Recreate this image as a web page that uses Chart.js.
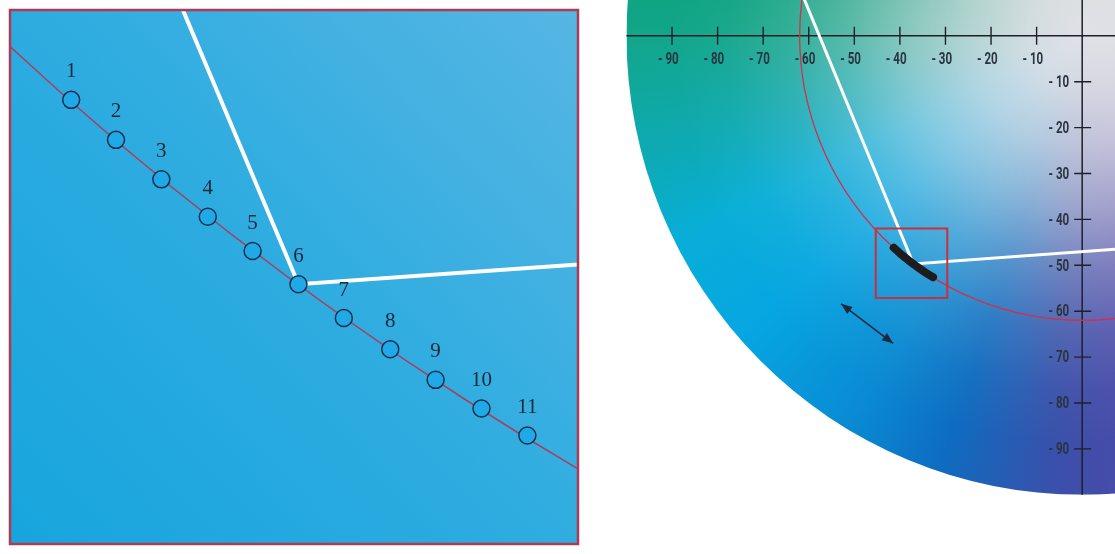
<!DOCTYPE html>
<html>
<head>
<meta charset="utf-8">
<script src="https://cdn.jsdelivr.net/npm/chart.js@4.4.1/dist/chart.umd.min.js"></script>
<style>
  html, body { margin: 0; padding: 0; background: #ffffff; }
  body { width: 1115px; height: 554px; position: relative; overflow: hidden; }
  #inset { position: absolute; left: 0; top: 0; }
  #plane { position: absolute; left: 590px; top: 0; }
</style>
</head>
<body>
<canvas id="inset" width="590" height="554"></canvas>
<canvas id="plane" width="525" height="554"></canvas>
<script>
// Eleven samples placed along the C* = 62 ring (a*, b* coordinates)
const sampleIds = ['1', '2', '3', '4', '5', '6', '7', '8', '9', '10', '11'];
const sampleA = [-41.36, -40.51, -39.65, -38.77, -37.92, -37.05, -36.19, -35.31, -34.45, -33.58, -32.71];
const sampleB = [-46.15, -46.92, -47.68, -48.40, -49.06, -49.70, -50.35, -50.95, -51.54, -52.09, -52.61];

// Reference ring and the outer edge of the colour disc (chroma)
const chromaRing = 62;
const gamutRadius = 100;

// White guide polyline (a*, b*)
const guideA = [-61.0, -37.05, 7.5];
const guideB = [8.0, -49.7, -46.5];

// Enlarged window marked on the plane (a* range, b* range)
const zoomA = [-45.3, -29.6];
const zoomB = [-42.0, -57.1];

// Double arrow (a*, b*)
const arrowA = [-52.9, -41.5];
const arrowB = [-58.4, -67.0];

// Axis ticks
const aTicks = [-90, -80, -70, -60, -50, -40, -30, -20, -10];
const aTickLabels = ['90', '80', '70', '60', '50', '40', '30', '20', '10'];
const bTicks = [-10, -20, -30, -40, -50, -60, -70, -80, -90];
const bTickLabels = ['10', '20', '30', '40', '50', '60', '70', '80', '90'];
const axisEnd = -100;

const pts = (xs, ys) => xs.map((v, i) => ({ x: v, y: ys[i] }));
const samplePts = pts(sampleA, sampleB);
const guidePts = pts(guideA, guideB);
const arrowPts = pts(arrowA, arrowB);
const boxPts = [
  { x: zoomA[0], y: zoomB[0] }, { x: zoomA[1], y: zoomB[0] },
  { x: zoomA[1], y: zoomB[1] }, { x: zoomA[0], y: zoomB[1] },
  { x: zoomA[0], y: zoomB[0] }
];

// Hue wheel colours around the origin (canvas angle, clockwise from +a*)
const hueStops = [
  [0.00, '#d6c8da'], [0.12, '#8a74bc'], [0.22, '#5048a8'], [0.26, '#3a50aa'],
  [0.30, '#0e6cc0'], [0.335, '#0a8ad2'], [0.385, '#06a6e2'], [0.425, '#08aed8'],
  [0.45, '#0cabbc'], [0.48, '#10a89e'], [0.50, '#12a68a'], [0.54, '#0aa078'],
  [0.75, '#9cc870'], [1.00, '#d6c8da']
];
const whiteStops = [
  [0.00, 1.0], [0.12, 0.93], [0.25, 0.78], [0.38, 0.58], [0.52, 0.33],
  [0.65, 0.15], [0.78, 0.04], [0.9, 0.0], [1.0, 0.0]
];

const labelFont = 'bold 17px Roboto, "DejaVu Sans", sans-serif';
const labelColor = '#2a3440';
const axisColor = '#1f1f2b';

function drawTickText(ctx, digits, x, y, mode) {
  // condensed axis lettering: "- 90"
  const sx = 0.68;
  ctx.save();
  ctx.font = labelFont;
  ctx.fillStyle = labelColor;
  ctx.textBaseline = 'middle';
  const dW = ctx.measureText(digits).width * sx;
  const mW = ctx.measureText('- ').width * sx;
  let left;
  if (mode === 'center') left = x - dW / 2 - mW;
  else left = x - dW - mW;
  ctx.translate(left, y);
  ctx.scale(sx, 1);
  ctx.textAlign = 'left';
  ctx.fillText('- ' + digits, 0, 0);
  ctx.restore();
}

const planePlugin = {
  id: 'labPlane',
  beforeDatasetsDraw(chart) {
    const { ctx, scales: { x, y } } = chart;
    const cx = x.getPixelForValue(0), cy = y.getPixelForValue(0);
    const rx = x.getPixelForValue(gamutRadius) - cx;
    const ry = cy - y.getPixelForValue(gamutRadius);

    // colour disc
    ctx.save();
    ctx.beginPath();
    ctx.ellipse(cx, cy, rx, ry, 0, 0, Math.PI * 2);
    ctx.clip();
    const conic = ctx.createConicGradient(0, cx, cy);
    hueStops.forEach(([f, c]) => conic.addColorStop(f, c));
    ctx.fillStyle = conic;
    ctx.fillRect(cx - rx, cy - ry, 2 * rx, 2 * ry);
    const rad = ctx.createRadialGradient(cx, cy, 0, cx, cy, rx);
    whiteStops.forEach(([f, a]) => rad.addColorStop(f, 'rgba(224,225,230,' + a + ')'));
    ctx.fillStyle = rad;
    ctx.fillRect(cx - rx, cy - ry, 2 * rx, 2 * ry);
    ctx.restore();

    // axes
    ctx.save();
    ctx.strokeStyle = axisColor;
    ctx.lineWidth = 1.5;
    ctx.beginPath();
    ctx.moveTo(x.getPixelForValue(axisEnd), cy);
    ctx.lineTo(chart.chartArea.right, cy);
    ctx.moveTo(cx, chart.chartArea.top);
    ctx.lineTo(cx, y.getPixelForValue(axisEnd));
    ctx.stroke();
    ctx.lineWidth = 1.4;
    ctx.beginPath();
    aTicks.forEach(v => {
      const px = x.getPixelForValue(v);
      ctx.moveTo(px, cy - 9); ctx.lineTo(px, cy + 9);
    });
    bTicks.forEach(v => {
      const py = y.getPixelForValue(v);
      ctx.moveTo(cx - 8, py); ctx.lineTo(cx + 9, py);
    });
    ctx.stroke();
    ctx.restore();
    aTicks.forEach((v, i) => drawTickText(ctx, aTickLabels[i], x.getPixelForValue(v), cy + 24, 'center'));
    bTicks.forEach((v, i) => drawTickText(ctx, bTickLabels[i], cx - 13, y.getPixelForValue(v) + 1, 'right'));

    // chroma ring
    ctx.save();
    ctx.strokeStyle = '#d2304a';
    ctx.lineWidth = 1.3;
    ctx.beginPath();
    ctx.ellipse(cx, cy, x.getPixelForValue(chromaRing) - cx, cy - y.getPixelForValue(chromaRing), 0, 0, Math.PI * 2);
    ctx.stroke();
    ctx.restore();
  },
  afterDatasetsDraw(chart) {
    const { ctx } = chart;
    const meta = chart.getDatasetMeta(1);
    const p0 = meta.data[0], p1 = meta.data[1];
    const head = (tip, from) => {
      const ang = Math.atan2(tip.y - from.y, tip.x - from.x);
      const L = 11, W = 4.5;
      ctx.beginPath();
      ctx.moveTo(tip.x, tip.y);
      ctx.lineTo(tip.x - L * Math.cos(ang) + W * Math.sin(ang), tip.y - L * Math.sin(ang) - W * Math.cos(ang));
      ctx.lineTo(tip.x - L * Math.cos(ang) - W * Math.sin(ang), tip.y - L * Math.sin(ang) + W * Math.cos(ang));
      ctx.closePath();
      ctx.fill();
    };
    ctx.save();
    ctx.fillStyle = '#1c2a3e';
    head(p0, p1);
    head(p1, p0);
    ctx.restore();
  }
};

new Chart(document.getElementById('plane'), {
  type: 'scatter',
  data: {
    datasets: [
      { data: samplePts, showLine: true, borderColor: '#1d1d1f', borderWidth: 8,
        borderCapStyle: 'round', borderJoinStyle: 'round', pointRadius: 0, tension: 0 },
      { data: arrowPts, showLine: true, borderColor: '#1c2a3e', borderWidth: 1.6, pointRadius: 0 },
      { data: boxPts, showLine: true, borderColor: '#c9303e', borderWidth: 2,
        borderCapStyle: 'square', borderJoinStyle: 'miter', pointRadius: 0 },
      { data: guidePts, showLine: true, borderColor: '#ffffff', borderWidth: 3,
        borderJoinStyle: 'miter', pointRadius: 0 }
    ]
  },
  options: {
    responsive: false, animation: false, devicePixelRatio: 1, events: [],
    layout: { padding: 0 },
    plugins: { legend: { display: false }, tooltip: { enabled: false } },
    scales: {
      x: { type: 'linear', min: -108, max: 7.2, display: false },
      y: { type: 'linear', min: -112.9, max: 7.8, display: false }
    }
  },
  plugins: [planePlugin]
});

const insetPlugin = {
  id: 'insetView',
  beforeDatasetsDraw(chart) {
    const { ctx, chartArea: ca, scales: { x, y } } = chart;
    ctx.save();
    const g = ctx.createLinearGradient(ca.left, ca.bottom, ca.right, ca.top);
    g.addColorStop(0, '#17a5dd');
    g.addColorStop(0.5, '#2eace0');
    g.addColorStop(1, '#56b6e3');
    ctx.fillStyle = g;
    ctx.fillRect(ca.left, ca.top, ca.right - ca.left, ca.bottom - ca.top);
    ctx.beginPath();
    ctx.rect(ca.left, ca.top, ca.right - ca.left, ca.bottom - ca.top);
    ctx.clip();
    const cx = x.getPixelForValue(0), cy = y.getPixelForValue(0);
    ctx.strokeStyle = '#a8405e';
    ctx.lineWidth = 1.6;
    ctx.beginPath();
    ctx.ellipse(cx, cy, x.getPixelForValue(chromaRing) - cx, cy - y.getPixelForValue(chromaRing), 0, 0, Math.PI * 2);
    ctx.stroke();
    ctx.restore();
  },
  afterDatasetsDraw(chart) {
    const { ctx } = chart;
    const meta = chart.getDatasetMeta(0);
    ctx.save();
    ctx.font = '21px "Liberation Serif", "DejaVu Serif", serif';
    ctx.fillStyle = '#1b2838';
    ctx.textAlign = 'center';
    ctx.textBaseline = 'middle';
    meta.data.forEach((p, i) => ctx.fillText(sampleIds[i], p.x, p.y - 28));
    ctx.restore();
  },
  afterDraw(chart) {
    const { ctx, chartArea: ca } = chart;
    ctx.save();
    ctx.strokeStyle = '#ad3b56';
    ctx.lineWidth = 2.5;
    ctx.strokeRect(ca.left, ca.top, ca.right - ca.left, ca.bottom - ca.top);
    ctx.restore();
  }
};

new Chart(document.getElementById('inset'), {
  type: 'scatter',
  data: {
    datasets: [
      { data: samplePts, showLine: false, pointRadius: 8.5, pointBackgroundColor: '#1fa9e7',
        pointBorderColor: '#17304d', pointBorderWidth: 1.5 },
      { data: guidePts, showLine: true, borderColor: '#ffffff', borderWidth: 4,
        borderJoinStyle: 'miter', pointRadius: 0 }
    ]
  },
  options: {
    responsive: false, animation: false, devicePixelRatio: 1, events: [],
    layout: { padding: { left: 7, top: 6, right: 12, bottom: 3 } },
    plugins: { legend: { display: false }, tooltip: { enabled: false } },
    scales: {
      x: { type: 'linear', min: -42.52, max: -31.75, display: false },
      y: { type: 'linear', min: -54.70, max: -44.42, display: false }
    }
  },
  plugins: [insetPlugin]
});
</script>
</body>
</html>
